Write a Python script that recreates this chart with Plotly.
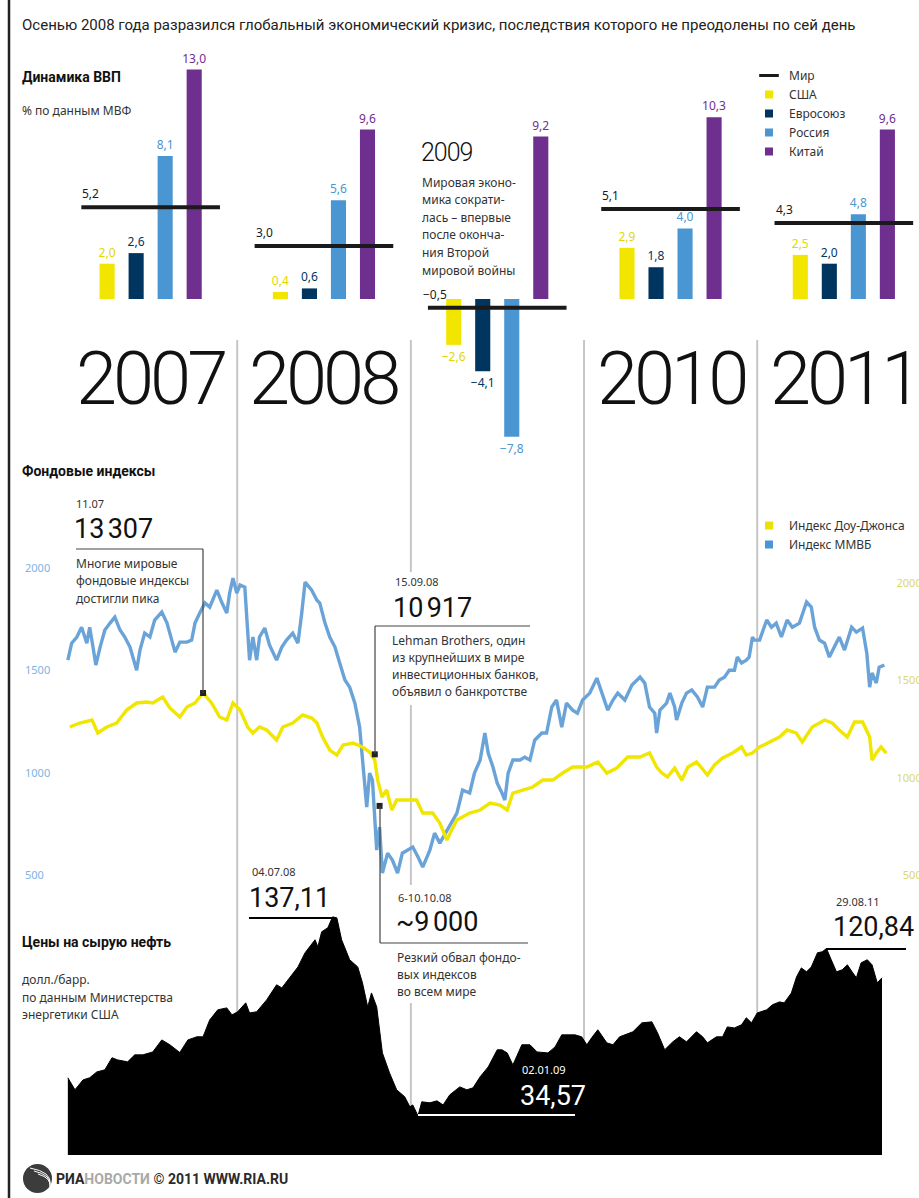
import plotly.graph_objects as go

W, H = 919, 1198

# ---------------- data ----------------
years = [2007, 2008, 2009, 2010, 2011]
gdp_world = [5.2, 3.0, -0.5, 5.1, 4.3]
gdp_usa = [2.0, 0.4, -2.6, 2.9, 2.5]
gdp_eu = [2.6, 0.6, -4.1, 1.8, 2.0]
gdp_russia = [8.1, 5.6, -7.8, 4.0, 4.8]
gdp_china = [13.0, 9.6, 9.2, 10.3, 9.6]

mmvb_dates = [
    "2007-01-09", "2007-01-17", "2007-01-28", "2007-02-07", "2007-02-18", "2007-02-24", "2007-03-03", "2007-03-09",
    "2007-03-18", "2007-03-28", "2007-04-08", "2007-04-18", "2007-04-29", "2007-05-09", "2007-05-20", "2007-06-03",
    "2007-06-10", "2007-06-20", "2007-07-01", "2007-07-11", "2007-07-26", "2007-08-06", "2007-08-16", "2007-08-23",
    "2007-09-02", "2007-09-17", "2007-09-27", "2007-10-04", "2007-10-14", "2007-10-25", "2007-11-04", "2007-11-19",
    "2007-11-30", "2007-12-10", "2007-12-16", "2007-12-23", "2007-12-31", "2008-01-07", "2008-01-17", "2008-01-23",
    "2008-01-27", "2008-02-03", "2008-02-11", "2008-02-17", "2008-02-28", "2008-03-09", "2008-03-24", "2008-04-04",
    "2008-04-14", "2008-04-27", "2008-05-08", "2008-05-16", "2008-05-23", "2008-06-06", "2008-06-17", "2008-06-23",
    "2008-07-04", "2008-07-14", "2008-07-25", "2008-08-04", "2008-08-15", "2008-08-25", "2008-09-05", "2008-09-15",
    "2008-09-21", "2008-09-30", "2008-10-06", "2008-10-12", "2008-10-21", "2008-10-27", "2008-11-02", "2008-11-13",
    "2008-11-23", "2008-12-04", "2008-12-14", "2009-01-05", "2009-01-16", "2009-01-26", "2009-02-10", "2009-02-20",
    "2009-03-03", "2009-03-18", "2009-03-30", "2009-04-08", "2009-04-20", "2009-05-05", "2009-05-15", "2009-05-27",
    "2009-06-06", "2009-06-13", "2009-06-23", "2009-07-02", "2009-07-12", "2009-07-18", "2009-07-25", "2009-08-04",
    "2009-08-19", "2009-08-29", "2009-09-09", "2009-09-19", "2009-10-04", "2009-10-14", "2009-10-25", "2009-11-04",
    "2009-11-15", "2009-11-25", "2009-12-08", "2009-12-18", "2009-12-29", "2010-01-13", "2010-01-28", "2010-02-07",
    "2010-02-20", "2010-03-03", "2010-03-13", "2010-03-28", "2010-04-12", "2010-04-29", "2010-05-09", "2010-05-19",
    "2010-05-30", "2010-06-03", "2010-06-10", "2010-06-24", "2010-07-01", "2010-07-11", "2010-07-15", "2010-07-26",
    "2010-08-05", "2010-08-16", "2010-08-28", "2010-09-08", "2010-09-18", "2010-10-03", "2010-10-13", "2010-10-24",
    "2010-11-03", "2010-11-14", "2010-11-20", "2010-11-29", "2010-12-09", "2010-12-15", "2010-12-22", "2010-12-26",
    "2011-01-06", "2011-01-21", "2011-01-31", "2011-02-10", "2011-02-21", "2011-03-05", "2011-03-16", "2011-03-31",
    "2011-04-15", "2011-04-25", "2011-05-02", "2011-05-12", "2011-05-23", "2011-06-02", "2011-06-13", "2011-06-23",
    "2011-07-04", "2011-07-19", "2011-07-29", "2011-08-11", "2011-08-20", "2011-08-26", "2011-08-31", "2011-09-09",
    "2011-09-15", "2011-09-26",
]
mmvb_values = [
    1550, 1633, 1663, 1711, 1633, 1711, 1614, 1526,
    1614, 1697, 1731, 1760, 1697, 1663, 1614, 1501,
    1599, 1682, 1663, 1746, 1785, 1731, 1648, 1589,
    1638, 1638, 1648, 1731, 1780, 1829, 1809, 1892,
    1829, 1780, 1878, 1951, 1878, 1917, 1907, 1697,
    1550, 1663, 1550, 1663, 1707, 1624, 1550, 1614,
    1648, 1682, 1633, 1780, 1931, 1892, 1843, 1829,
    1731, 1663, 1614, 1536, 1453, 1418, 1340, 1223,
    1062, 832, 998, 964, 622, 734, 510, 607,
    573, 510, 607, 637, 588, 539, 622, 705,
    656, 720, 769, 803, 915, 901, 998, 1062,
    1194, 1096, 1028, 949, 901, 866, 998, 1062,
    1062, 1076, 1062, 1159, 1194, 1194, 1321, 1355,
    1223, 1340, 1306, 1291, 1355, 1389, 1462, 1389,
    1306, 1355, 1389, 1355, 1428, 1467, 1438, 1321,
    1291, 1194, 1306, 1340, 1389, 1321, 1257, 1340,
    1389, 1404, 1370, 1321, 1418, 1418, 1453, 1467,
    1501, 1501, 1565, 1536, 1550, 1565, 1663, 1648,
    1648, 1746, 1711, 1731, 1663, 1746, 1711, 1731,
    1834, 1809, 1711, 1648, 1633, 1565, 1614, 1663,
    1599, 1711, 1687, 1707, 1584, 1418, 1487, 1438,
    1516, 1526,
]

dow_dates = [
    "2007-01-13", "2007-02-03", "2007-03-01", "2007-03-13", "2007-04-01", "2007-04-22", "2007-05-13", "2007-06-03",
    "2007-06-24", "2007-07-07", "2007-07-28", "2007-08-12", "2007-09-02", "2007-09-17", "2007-10-04", "2007-10-21",
    "2007-11-08", "2007-11-25", "2007-12-10", "2007-12-23", "2008-01-07", "2008-01-23", "2008-02-03", "2008-02-17",
    "2008-03-03", "2008-03-24", "2008-04-06", "2008-04-27", "2008-05-18", "2008-06-06", "2008-06-17", "2008-06-29",
    "2008-07-14", "2008-07-29", "2008-08-11", "2008-09-01", "2008-09-21", "2008-10-06", "2008-10-17", "2008-10-23",
    "2008-11-01", "2008-11-11", "2008-11-22", "2008-12-02", "2008-12-23", "2009-01-13", "2009-01-26", "2009-02-16",
    "2009-03-03", "2009-03-18", "2009-03-28", "2009-04-08", "2009-05-05", "2009-05-27", "2009-06-17", "2009-07-08",
    "2009-07-23", "2009-08-04", "2009-08-25", "2009-09-15", "2009-10-06", "2009-10-27", "2009-11-17", "2009-12-08",
    "2010-01-07", "2010-01-30", "2010-02-18", "2010-03-11", "2010-04-03", "2010-04-29", "2010-05-19", "2010-06-03",
    "2010-06-14", "2010-06-26", "2010-07-11", "2010-07-26", "2010-08-08", "2010-08-26", "2010-09-06", "2010-09-18",
    "2010-10-03", "2010-10-20", "2010-11-10", "2010-11-29", "2010-12-09", "2010-12-22", "2011-01-06", "2011-01-27",
    "2011-02-17", "2011-03-05", "2011-03-24", "2011-04-06", "2011-04-27", "2011-05-23", "2011-06-08", "2011-06-23",
    "2011-07-10", "2011-07-25", "2011-08-11", "2011-08-26", "2011-08-31", "2011-09-09", "2011-09-19", "2011-09-30",
]
dow_values = [
    12603, 12808, 12962, 12295, 12603, 12808, 13476, 13836,
    13887, 13836, 14144, 13579, 13116, 13630, 13836, 14349,
    13836, 13116, 12962, 13836, 13476, 12603, 12295, 12603,
    12449, 11935, 12603, 12808, 13219, 13065, 12808, 12089,
    11421, 11164, 11678, 11781, 11575, 11318, 10908, 9880,
    9007, 9366, 8339, 8853, 8853, 8853, 8185, 8185,
    7671, 6798, 7312, 7825, 8185, 8339, 8699, 8596,
    8339, 9212, 9366, 9521, 9880, 9880, 10240, 10548,
    10548, 10805, 10240, 10497, 11062, 11062, 11267, 10548,
    10240, 10034, 10497, 9880, 10548, 10805, 10497, 10137,
    10651, 11010, 11267, 11575, 11164, 11267, 11575, 11832,
    12089, 12449, 12295, 11832, 12603, 12962, 12808, 12449,
    12089, 12860, 12860, 12089, 10908, 11267, 11575, 11267,
]

oil_dates = [
    "2007-01-09", "2007-01-24", "2007-02-10", "2007-02-24", "2007-03-11", "2007-03-28", "2007-04-12", "2007-04-24",
    "2007-05-15", "2007-05-30", "2007-06-16", "2007-07-07", "2007-07-26", "2007-08-12", "2007-09-02", "2007-09-19",
    "2007-10-08", "2007-10-21", "2007-11-04", "2007-11-21", "2007-12-10", "2007-12-21", "2008-01-02", "2008-01-19",
    "2008-01-27", "2008-02-11", "2008-03-03", "2008-03-24", "2008-04-04", "2008-04-21", "2008-05-08", "2008-05-23",
    "2008-06-13", "2008-06-19", "2008-06-27", "2008-07-10", "2008-07-20", "2008-07-29", "2008-08-08", "2008-08-25",
    "2008-09-11", "2008-09-21", "2008-10-02", "2008-10-10", "2008-10-21", "2008-11-02", "2008-11-17", "2008-12-02",
    "2008-12-19", "2008-12-30", "2009-01-05", "2009-01-16", "2009-01-24", "2009-02-10", "2009-02-25", "2009-03-10",
    "2009-03-24", "2009-04-14", "2009-04-29", "2009-05-12", "2009-05-27", "2009-06-13", "2009-07-02", "2009-07-12",
    "2009-07-23", "2009-08-04", "2009-08-23", "2009-09-09", "2009-09-24", "2009-10-17", "2009-11-01", "2009-11-15",
    "2009-12-13", "2009-12-27", "2010-01-07", "2010-01-17", "2010-01-30", "2010-02-18", "2010-03-03", "2010-03-17",
    "2010-04-14", "2010-05-03", "2010-05-24", "2010-06-05", "2010-06-20", "2010-07-07", "2010-07-21", "2010-08-05",
    "2010-08-26", "2010-09-08", "2010-09-18", "2010-10-07", "2010-10-20", "2010-10-30", "2010-11-14", "2010-11-29",
    "2010-12-09", "2010-12-20", "2011-01-01", "2011-01-21", "2011-02-02", "2011-02-17", "2011-02-27", "2011-03-14",
    "2011-03-25", "2011-04-04", "2011-04-15", "2011-04-25", "2011-05-08", "2011-05-18", "2011-05-27", "2011-06-06",
    "2011-06-17", "2011-06-29", "2011-07-10", "2011-07-20", "2011-07-29", "2011-08-08", "2011-08-21", "2011-08-31",
    "2011-09-11", "2011-09-21",
]
oil_values = [
    54.2, 48.0, 53.1, 54.2, 57.2, 58.3, 64.5, 63.4,
    62.4, 66.0, 66.0, 67.5, 73.7, 71.2, 67.2, 73.7,
    75.3, 75.3, 84.0, 89.2, 90.2, 86.6, 88.2, 92.8,
    87.6, 88.2, 94.3, 102.1, 100.5, 106.2, 111.3, 118.6,
    125.3, 121.7, 129.4, 131.5, 137.1, 136.6, 125.3, 115.0,
    111.3, 103.1, 90.7, 97.9, 90.7, 67.0, 56.7, 48.0,
    44.4, 39.2, 40.2, 34.6, 41.8, 41.3, 42.3, 40.2,
    45.4, 49.5, 48.0, 49.0, 54.7, 59.8, 68.6, 68.6,
    67.0, 60.8, 71.2, 71.2, 67.5, 67.0, 70.1, 76.3,
    76.3, 75.3, 71.2, 74.8, 78.9, 72.2, 71.2, 75.3,
    77.9, 82.5, 83.0, 77.3, 68.6, 72.7, 75.3, 72.7,
    77.9, 75.3, 72.2, 75.3, 75.3, 80.4, 79.9, 81.5,
    85.1, 82.5, 87.6, 89.2, 91.8, 93.3, 92.8, 97.9,
    106.2, 110.8, 108.8, 111.3, 118.6, 119.1, 120.8, 115.0,
    108.8, 109.8, 112.4, 108.8, 105.7, 113.4, 115.0, 112.4,
    103.1, 105.7,
]

event_dates = ["2007-10-21", "2008-10-17", "2008-10-27"]
event_dow = [14350, 11200, 8550]

mmvb_ticks = [500, 1000, 1500, 2000]
dow_ticks = [5000, 10000, 15000, 20000]

# ---------------- styling ----------------
SANS = "Noto Sans, Open Sans, DejaVu Sans, sans-serif"
ROBOTO = "Roboto, Noto Sans, sans-serif"
C_USA, C_EU, C_RU, C_CN = "#f2e600", "#00355f", "#4a96d2", "#6f2f8f"
C_MMVB, C_DOW = "#6aa3d8", "#f0e600"
TXT = "#333333"


def px(x):
    return x / W


def py(y):
    return 1 - y / H


def fmt(v):
    return f"{v:.1f}".replace(".", ",").replace("-", "\u2212")


fig = go.Figure()

# GDP bars
for name, vals, col, tcol in [("США", gdp_usa, C_USA, "#e2d800"), ("Евросоюз", gdp_eu, C_EU, C_EU),
                              ("Россия", gdp_russia, C_RU, C_RU), ("Китай", gdp_china, C_CN, C_CN)]:
    fig.add_trace(go.Bar(x=years, y=vals, name=name, marker=dict(color=col, line=dict(width=0)),
                         text=[fmt(v) for v in vals], textposition="outside", constraintext="none",
                         textfont=dict(color=tcol, size=12, family=SANS), cliponaxis=False,
                         showlegend=False, xaxis="x", yaxis="y", hoverinfo="skip"))

# World line per year
wx, wy = [], []
for yr, v in zip(years, gdp_world):
    wx += [yr - 0.4, yr + 0.4, None]
    wy += [v, v, None]
fig.add_trace(go.Scatter(x=wx, y=wy, mode="lines", line=dict(color="#1a1a1a", width=4),
                         showlegend=False, xaxis="x", yaxis="y", hoverinfo="skip"))

# GDP legend entries
fig.add_trace(go.Scatter(x=[None], y=[None], mode="markers", name="Мир", legend="legend",
                         marker=dict(symbol="line-ew", size=14, line=dict(width=3, color="#1a1a1a")),
                         xaxis="x", yaxis="y"))
for name, col in [("США", C_USA), ("Евросоюз", C_EU), ("Россия", C_RU), ("Китай", C_CN)]:
    fig.add_trace(go.Scatter(x=[None], y=[None], mode="markers", name=name, legend="legend",
                             marker=dict(symbol="square", size=8, color=col), xaxis="x", yaxis="y"))

# Oil
fig.add_trace(go.Scatter(x=oil_dates, y=oil_values, mode="lines", fill="tozeroy", fillcolor="#000000",
                         line=dict(color="#000000", width=1), showlegend=False,
                         xaxis="x2", yaxis="y4", hoverinfo="skip"))

# Stock indexes (MMVB below, Dow Jones on top)
fig.add_trace(go.Scatter(x=mmvb_dates, y=mmvb_values, mode="lines", line=dict(color=C_MMVB, width=3.4),
                         showlegend=False, xaxis="x2", yaxis="y2", hoverinfo="skip"))
fig.add_trace(go.Scatter(x=dow_dates, y=dow_values, mode="lines", line=dict(color=C_DOW, width=3.4),
                         showlegend=False, xaxis="x2", yaxis="y3", hoverinfo="skip"))
fig.add_trace(go.Scatter(x=event_dates, y=event_dow, mode="markers",
                         marker=dict(symbol="square", size=6, color="#222222"),
                         showlegend=False, xaxis="x2", yaxis="y3", hoverinfo="skip"))
for name, col in [("Индекс Доу-Джонса", "#eee000"), ("Индекс ММВБ", "#4a96d2")]:
    fig.add_trace(go.Scatter(x=[None], y=[None], mode="markers", name=name, legend="legend2",
                             marker=dict(symbol="square", size=8, color=col), xaxis="x2", yaxis="y2"))

# ---------------- layout ----------------
hidden = dict(visible=False, showgrid=False, zeroline=False, fixedrange=True)
leg_common = dict(xanchor="left", yanchor="top", xref="container", yref="container",
                  bgcolor="rgba(0,0,0,0)", font=dict(size=12, color=TXT, family=SANS),
                  traceorder="normal", itemclick=False, itemdoubleclick=False, borderwidth=0)
fig.update_layout(
    width=W, height=H, autosize=False,
    margin=dict(l=0, r=0, t=0, b=0, pad=0, autoexpand=False),
    paper_bgcolor="white", plot_bgcolor="rgba(0,0,0,0)",
    barmode="group", bargap=0.33, bargroupgap=0.48,
    separators=", ",
    font=dict(family=SANS, color=TXT, size=12),
    xaxis=dict(hidden, domain=[0, 1], range=[2006.1307, 2011.4337], anchor="y"),
    yaxis=dict(hidden, domain=[py(450), py(60)], range=[-8.555, 13.541], anchor="x"),
    xaxis2=dict(hidden, type="date", domain=[0, 1], range=["2006-08-19", "2011-12-08"], anchor="y4"),
    yaxis2=dict(domain=[py(890), py(540)], range=[427, 2137], anchor="free", position=px(21), side="left",
                tickvals=mmvb_ticks, ticktext=[str(t) for t in mmvb_ticks], ticklabelposition="inside",
                tickfont=dict(color="#7db3e3", size=11, family=SANS), showgrid=False, zeroline=False,
                showline=False, ticks="", fixedrange=True, automargin=False),
    yaxis3=dict(overlaying="y2", range=[4230, 22210], anchor="free", position=1, side="right",
                tickvals=dow_ticks, ticktext=[str(t) for t in dow_ticks], ticklabelposition="inside",
                ticklabelstandoff=-12,
                tickfont=dict(color="#dcd86a", size=11, family=SANS), showgrid=False, zeroline=False,
                showline=False, ticks="", fixedrange=True, automargin=False),
    yaxis4=dict(hidden, domain=[py(1155), py(880)], range=[14.4, 156.1], anchor="x2"),
    legend=dict(leg_common, x=px(749), y=py(61)),
    legend2=dict(leg_common, x=px(749), y=py(511)),
    showlegend=True,
)

# ---------------- shapes ----------------
shapes = []
# left border
shapes.append(dict(type="line", xref="paper", yref="paper", x0=px(9), x1=px(9), y0=0, y1=1,
                   line=dict(color="#222222", width=2.5)))
# year dividers
for yr in years[1:]:
    segs = [(340, 572), (705, 885), (1003, 1155)] if yr == 2009 else [(340, 1155)]
    for a, b in segs:
        shapes.append(dict(type="line", xref="x2", yref="paper", x0=f"{yr}-01-01", x1=f"{yr}-01-01",
                           y0=py(a), y1=py(b), layer="below", line=dict(color="#c6c6c6", width=2)))


def seg(x0, y0, x1, y1, color="#444444", width=1.2):
    shapes.append(dict(type="line", xref="paper", yref="paper", x0=px(x0), x1=px(x1), y0=py(y0), y1=py(y1),
                       line=dict(color=color, width=width)))


# connectors for stock annotations
seg(76, 549, 203, 549)
seg(203, 549, 203, 693)
seg(375, 626, 530, 626)
seg(375, 626, 375, 754)
seg(380, 806, 380, 943)
seg(380, 943, 528, 943)
# oil underlines
seg(249, 918, 333, 918, color="#000000", width=2)
seg(418, 1115, 575, 1115, color="#ffffff", width=2)
seg(826, 949, 906, 949, color="#000000", width=2)
# logo
shapes.append(dict(type="circle", xref="paper", yref="paper", x0=px(23), x1=px(52), y0=py(1193), y1=py(1164),
                   fillcolor="#3c3c3c", line=dict(width=0)))
for k in range(3):
    shapes.append(dict(type="path", xref="paper", yref="paper",
                       path=f"M {px(30 + 4 * k)},{py(1168 + 3 * k)} Q {px(52)},{py(1172 + 3 * k)} {px(50)},{py(1184 + 2 * k)}",
                       line=dict(color="#ffffff", width=1), fillcolor="rgba(0,0,0,0)"))
fig.update_layout(shapes=shapes)

# ---------------- annotations ----------------


def label(text, x, y, size=12, color=TXT, family=SANS, xanchor="left", weight="normal", xref="paper"):
    fig.add_annotation(text=text, x=(x if xref != "paper" else px(x)), y=py(y), xref=xref, yref="paper",
                       showarrow=False, xanchor=xanchor, yanchor="middle", align="left",
                       font=dict(size=size, color=color, family=family, weight=weight),
                       borderpad=0)


# world-average value labels sit above the left end of each world line
for yr, v in zip(years, gdp_world):
    fig.add_annotation(text=fmt(v), x=yr - 0.4, y=v, xref="x", yref="y", showarrow=False,
                       xanchor="left", yanchor="bottom", yshift=4, xshift=(-6 if v < 0 else 0),
                       font=dict(size=12, color="#1a1a1a", family=SANS), borderpad=0)

label("Осенью 2008 года разразился глобальный экономический кризис, последствия которого не преодолены по сей день",
      21, 25, size=15, color="#222222", family=ROBOTO)
label("Динамика ВВП", 21, 77, size=14, color="#111111", family=ROBOTO, weight="bold")
label("% по данным МВФ", 21, 111, size=12)

# big year labels (tight tracking to imitate the condensed face)
for yr in years:
    if yr == 2009:
        continue
    label(f"<span style='letter-spacing:-4px'>{yr}</span>", yr, 378, size=74, color="#111111",
          family=ROBOTO, xanchor="center", xref="x", weight=300)
label("<span style='letter-spacing:-1px'>2009</span>", 420, 153, size=25, color="#111111",
      family=ROBOTO, weight=300)
for i, line in enumerate(["Мировая эконо-", "мика сократи-", "лась \u2013 впервые", "после оконча-",
                          "ния Второй", "мировой войны"]):
    label(line, 421, 182 + i * 17.6, size=12)

# stock section
label("Фондовые индексы", 21, 471, size=14, color="#111111", family=ROBOTO, weight="bold")
label("11.07", 75, 503, size=11)
label("13\u202f307", 73, 529, size=27, color="#111111", family=ROBOTO)
for i, line in enumerate(["Многие мировые", "фондовые индексы", "достигли пика"]):
    label(line, 75, 563 + i * 17.5, size=12)
label("15.09.08", 394, 581, size=11)
label("10\u202f917", 392, 608, size=27, color="#111111", family=ROBOTO)
for i, line in enumerate(["Lehman Brothers, один", "из крупнейших в мире", "инвестиционных банков,",
                          "объявил о банкротстве"]):
    label(line, 391, 640 + i * 17.2, size=12)
label("6-10.10.08", 397, 897, size=11)
label("~9\u202f000", 395, 922, size=27, color="#111111", family=ROBOTO)
for i, line in enumerate(["Резкий обвал фондо-", "вых индексов", "во всем мире"]):
    label(line, 396, 957 + i * 17.2, size=12)

# oil section
label("Цены на сырую нефть", 21, 942, size=14, color="#111111", family=ROBOTO, weight="bold")
for i, line in enumerate(["долл./барр.", "по данным Министерства", "энергетики США"]):
    label(line, 21, 980 + i * 17.2, size=12)
label("04.07.08", 251, 871, size=11)
label("137,11", 248, 898, size=27, color="#111111", family=ROBOTO)
label("02.01.09", 521, 1069, size=11, color="#ffffff")
label("34,57", 519, 1096, size=27, color="#ffffff", family=ROBOTO)
label("29.08.11", 835, 901, size=11)
label("120,84", 832, 927, size=27, color="#111111", family=ROBOTO)

# footer
label("РИА<span style='color:#a9a9a9'>НОВОСТИ</span> © 2011 WWW.RIA.RU", 55, 1179, size=14,
      color="#2a2a2a", family=ROBOTO, weight="bold")

fig.write_html("out.html", include_plotlyjs=True,
               config={"displayModeBar": False, "staticPlot": True, "responsive": False})
